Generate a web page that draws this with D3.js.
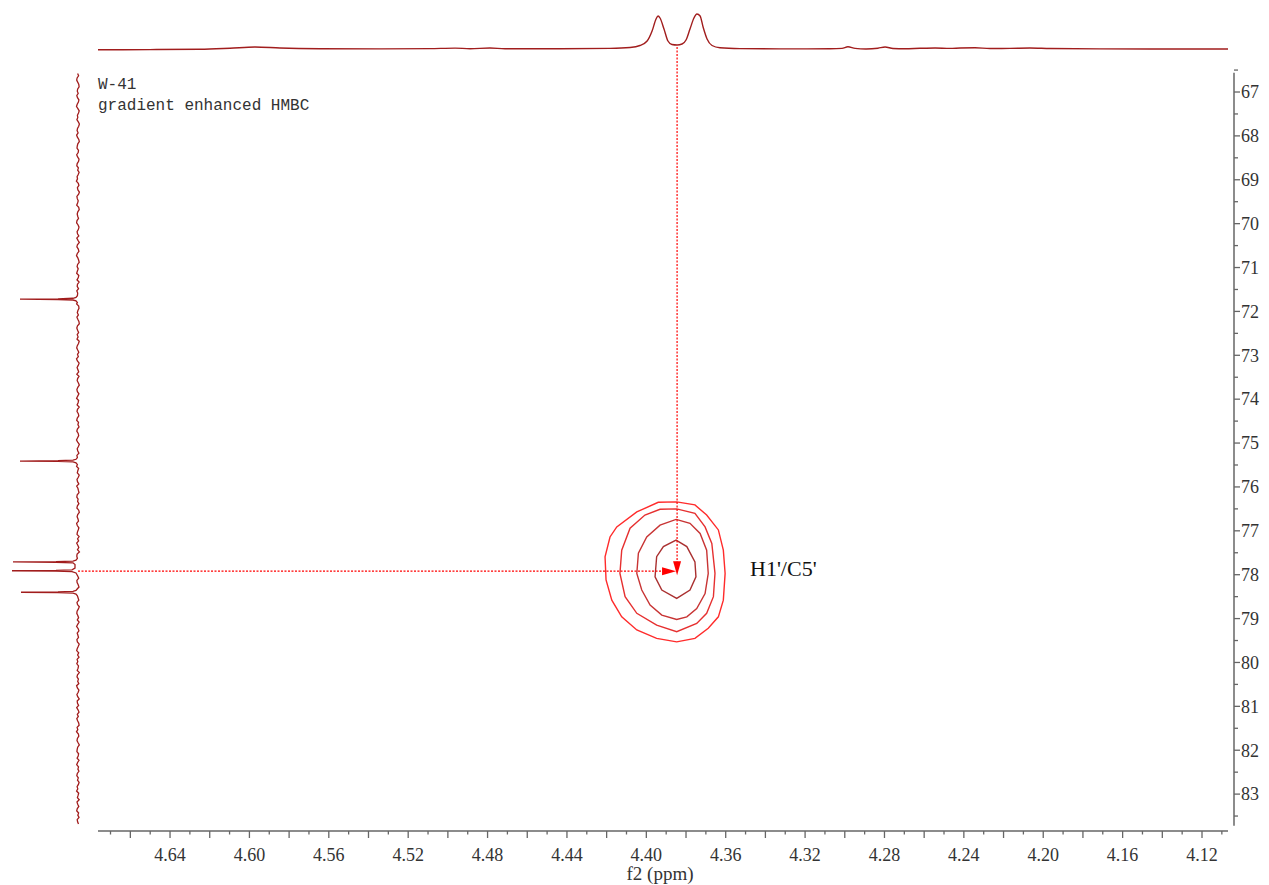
<!DOCTYPE html>
<html>
<head>
<meta charset="utf-8">
<script src="https://cdn.jsdelivr.net/npm/d3@7/dist/d3.min.js"></script>
<style>
  body { margin: 0; background: #fff; }
  .tick-label { font-family: "Liberation Serif", "DejaVu Serif", serif; font-size: 18px; fill: #333; }
  .title { font-family: "Liberation Mono", monospace; font-size: 16px; fill: #333; }
</style>
</head>
<body>
<div id="chart"></div>
<script>
var svgWidth = 1269;
var svgHeight = 885;

// plot area (pixels)
var plot = { left: 98, right: 1228, top: 72.7, bottom: 825.7 };

// ---- data ----
var f2Domain = [4.6763, 4.1069];       // ppm, left -> right
var f1Domain = [66.56, 83.72];         // ppm, top -> bottom
var f2Labels = [4.64, 4.60, 4.56, 4.52, 4.48, 4.44, 4.40, 4.36, 4.32, 4.28, 4.24, 4.20, 4.16, 4.12];
var f1Labels = [67, 68, 69, 70, 71, 72, 73, 74, 75, 76, 77, 78, 79, 80, 81, 82, 83];

// 1H projection (f2 ppm, intensity)
var topSpectrum = [
  [4.6763, -0.8], [4.6501, -0.6], [4.6249, -0.3], [4.6098, 0.8], [4.5972, 2.0], [4.5846, 1.0],
  [4.5644, 0.3], [4.5342, 0.1], [4.5090, 0.4], [4.4964, 0.9], [4.4888, 0.3], [4.4788, 1.0],
  [4.4712, 0.2], [4.4435, 0.2], [4.4183, 0.6], [4.4082, 1.5], [4.4032, 3.5], [4.3996, 8],
  [4.3971, 18], [4.3951, 30], [4.3941, 33], [4.3931, 31], [4.3911, 20], [4.3891, 8],
  [4.3871, 4.5], [4.3845, 4], [4.3820, 5], [4.3800, 9], [4.3780, 20], [4.3760, 31],
  [4.3745, 35], [4.3729, 33], [4.3714, 22], [4.3694, 10], [4.3669, 3.5], [4.3629, 1.2],
  [4.3528, 0.4], [4.3326, 0.1], [4.3074, 0.2], [4.3014, 0.6], [4.2984, 2.2], [4.2948, 0.6],
  [4.2893, 0.0], [4.2833, 0.8], [4.2797, 2.0], [4.2757, 0.5], [4.2696, 0.2], [4.2621, 0.7],
  [4.2545, 1.0], [4.2470, 0.6], [4.2419, 1.0], [4.2344, 1.2], [4.2268, 0.5], [4.2167, 0.6],
  [4.2067, 1.0], [4.1966, 0.5], [4.1714, 0.1], [4.1462, 0.0], [4.1069, 0.0]
];

// 13C projection: baseline noise sampled every 0.05 ppm from 66.58
var leftNoiseStart = 66.58;
var leftNoiseStep = 0.05;
var leftNoise = [
  0.4,-0.6,0.9,1.3,0.2,-0.8,-1.1,0.3,0.7,-0.2,1.2,0.5,-0.9,-0.4,0.8,1.5,0.1,-1.2,-0.5,0.6,
  0.2,1.1,-0.3,-1.4,-0.7,0.5,0.9,-0.1,1.4,0.6,-0.8,-1.3,0.2,0.7,1.0,-0.5,-0.2,1.3,0.4,-1.0,
  -0.6,0.8,1.2,-0.4,0.3,-1.1,-0.2,0.9,0.5,1.6,-0.3,-0.9,0.6,0.1,-1.4,-0.6,1.1,0.7,-0.2,0.4,
  1.3,-0.7,-1.2,0.2,0.8,0.3,-0.5,1.0,1.4,-0.1,-1.0,-0.4,0.9,0.5,-0.8,1.2,0.0,-1.3,0.6,1.1,
  -0.3,-0.9,0.7,1.5,0.2,-0.6,-1.2,0.4,0.9,-0.2,0.6,1.3,-0.8,-0.3,1.0,-1.1,0.5,0.8,-0.5,1.2,
  0.3,-1.4,-0.2,0.9,0.6,1.4,-0.7,-1.0,0.1,0.7,-0.4,1.1,0.2,-0.9,-1.3,0.5,1.2,0.4,-0.6,0.8,
  -0.1,1.0,-1.2,-0.5,0.7,1.3,0.3,-0.8,0.5,-0.3,1.5,0.6,-1.1,-0.2,0.9,0.1,-0.7,1.2,-1.0,0.4,
  0.8,-0.4,-1.3,0.2,1.1,0.6,-0.9,0.3,1.4,-0.6,-0.1,0.9,-1.2,0.5,1.0,-0.3,-0.8,0.7,1.3,-0.5,
  0.1,-1.0,0.6,1.2,-0.2,-0.7,0.4,1.5,0.3,-1.3,-0.4,0.8,0.2,-0.9,1.1,0.6,-0.5,-1.1,0.9,1.4,
  -0.6,0.2,0.7,-1.2,-0.3,1.0,0.5,-0.8,1.3,0.1,-0.4,-1.0,0.8,1.2,-0.1,0.4,-0.9,0.6,1.1,-0.7,
  -1.3,0.3,0.9,0.0,-0.5,1.4,0.7,-0.9,-0.2,0.6,1.0,-1.1,0.4,-0.6,1.3,0.2,-0.8,0.5,-1.4,0.9,
  1.2,-0.3,0.1,-0.9,0.8,1.5,-0.4,-1.2,0.6,0.3,-0.7,1.1,0.9,-0.2,-1.0,0.4,1.3,-0.5,0.7,-0.1,
  -0.8,1.0,0.5,-1.3,-0.4,0.9,1.2,0.2,-0.6,0.7,-1.1,0.3,1.4,-0.2,-0.9,0.8,0.1,-0.5,1.1,0.6,
  -1.2,-0.3,0.7,1.3,-0.7,0.4,-1.0,0.9,0.2,1.2,-0.5,-0.1,0.8,-1.3,0.5,1.0,-0.4,0.3,-0.8,1.4,
  0.6,-0.9,-0.2,1.1,0.3,-1.2,0.8,0.5,-0.6,1.3,0.0,-1.0,0.7,-0.3,1.2,0.4,-0.7,-1.1,0.9,0.2,
  1.5,-0.4,-0.8,0.6,1.0,-0.1,-1.3,0.3,0.8,1.1,-0.6,-0.2,0.9,-1.0,0.4,1.3,-0.5,0.1,-0.9,0.7,
  1.2,-0.3,0.5,-1.1,-0.4,0.9,0.2,1.4,-0.7,-0.1,0.6,-1.2,1.0,0.3,-0.8,0.7,1.3,-0.6,0.2,-1.0,
  0.8,0.4,-0.5,1.1,-1.3,0.6,0.1,-0.7,1.2,0.9
];
// 13C peaks (f1 ppm, intensity)
var leftPeaks = [
  [[71.64, 0.6], [71.68, 2], [71.70, 5], [71.712, 20], [71.72, 58], [71.728, 20], [71.74, 5], [71.76, 2], [71.80, 0.6]],
  [[75.33, 0.6], [75.37, 2], [75.39, 5], [75.402, 20], [75.41, 58], [75.418, 20], [75.43, 5], [75.45, 2], [75.49, 0.6]],
  [[77.63, 0.6], [77.67, 2], [77.69, 5], [77.702, 22], [77.71, 65], [77.718, 22], [77.73, 5], [77.77, 3],
   [77.85, 3], [77.89, 6], [77.902, 22], [77.91, 66], [77.918, 22], [77.93, 6], [77.96, 2], [78.00, 1]],
  [[78.32, 0.6], [78.36, 2], [78.38, 5], [78.392, 20], [78.40, 57], [78.408, 20], [78.42, 5], [78.44, 2], [78.48, 0.6]]
];

// cross peak and its contour levels (outer -> inner), [f2, f1]
var crossPeak = { f2: 4.3845, f1: 77.92, label: "H1'/C5'" };
var contourColors = ["#ff2b2b", "#e63030", "#c83434", "#aa3030"];
var contours = [
  [[4.3940,76.35],[4.3847,76.34],[4.3755,76.41],[4.3696,76.64],[4.3637,76.98],[4.3612,77.44],[4.3603,77.97],
   [4.3612,78.58],[4.3637,78.96],[4.3688,79.22],[4.3755,79.45],[4.3847,79.53],[4.3948,79.45],[4.4048,79.26],
   [4.4124,78.96],[4.4174,78.58],[4.4203,78.12],[4.4208,77.59],[4.4183,77.14],[4.4149,76.91],[4.4048,76.57]],
  [[4.3931,76.51],[4.3847,76.50],[4.3755,76.60],[4.3704,76.91],[4.3670,77.29],[4.3654,77.97],[4.3662,78.50],
   [4.3696,78.88],[4.3746,79.11],[4.3847,79.30],[4.3948,79.15],[4.4048,78.88],[4.4107,78.50],[4.4133,77.97],
   [4.4124,77.44],[4.4082,76.94],[4.4007,76.64]],
  [[4.3850,76.74],[4.3780,76.83],[4.3729,77.06],[4.3696,77.44],[4.3688,77.97],[4.3704,78.43],[4.3746,78.77],
   [4.3796,78.96],[4.3847,79.02],[4.3922,78.92],[4.3981,78.69],[4.4023,78.35],[4.4048,77.97],[4.4040,77.51],
   [4.3998,77.14],[4.3931,76.87]],
  [[4.3850,77.21],[4.3796,77.36],[4.3755,77.71],[4.3750,78.05],[4.3780,78.35],[4.3847,78.54],[4.3922,78.35],
   [4.3956,78.05],[4.3948,77.59],[4.3914,77.36]]
];

// ---- scales ----
var x = d3.scaleLinear().domain(f2Domain).range([plot.left, plot.right]);
var y = d3.scaleLinear().domain(f1Domain).range([plot.top, plot.bottom]);
var topY = d3.scaleLinear().domain([0, 40]).range([49, 9]);     // 1H projection intensity
var leftX = d3.scaleLinear().domain([0, 66]).range([78, 12]);   // 13C projection intensity

var svg = d3.select("#chart").append("svg")
  .attr("width", svgWidth)
  .attr("height", svgHeight);

var traceColor = "#a11d1d";
var axisColor = "#666";

// top projection
var topLine = d3.line()
  .x(d => x(d[0]))
  .y(d => topY(d[1]))
  .curve(d3.curveMonotoneX);
svg.append("path")
  .datum(topSpectrum)
  .attr("d", topLine)
  .attr("fill", "none")
  .attr("stroke", traceColor)
  .attr("stroke-width", 1.4);

// left projection: noise + peaks
var leftPts = [];
var allPeakPts = [].concat.apply([], leftPeaks);
var peakRanges = leftPeaks.map(p => d3.extent(p, d => d[0]));
leftNoise.forEach(function(v, i) {
  var f1 = leftNoiseStart + i * leftNoiseStep;
  if (f1 > f1Domain[1]) return;
  var inside = peakRanges.some(r => f1 >= r[0] - 0.02 && f1 <= r[1] + 0.02);
  if (!inside) leftPts.push([f1, v]);
});
leftPts = leftPts.concat(allPeakPts).sort((a, b) => a[0] - b[0]);

var leftLine = d3.line()
  .x(d => leftX(d[1]))
  .y(d => y(d[0]));
svg.append("path")
  .datum(leftPts)
  .attr("d", leftLine)
  .attr("fill", "none")
  .attr("stroke", traceColor)
  .attr("stroke-width", 1.3);

// x axis (bottom)
var axisY = 831;
var xg = svg.append("g");
xg.append("line")
  .attr("x1", plot.left).attr("x2", plot.right)
  .attr("y1", axisY).attr("y2", axisY)
  .attr("stroke", axisColor).attr("stroke-width", 1.5);
var xTicks = d3.range(467, 410, -1).map(d => d / 100);
xg.selectAll(".xt")
  .data(xTicks)
  .enter().append("line")
  .attr("x1", d => x(d)).attr("x2", d => x(d))
  .attr("y1", axisY)
  .attr("y2", d => Math.round(d * 100) % 2 === 0 ? axisY + 7 : axisY + 3.5)
  .attr("stroke", axisColor).attr("stroke-width", 1.3);
xg.selectAll(".xl")
  .data(f2Labels)
  .enter().append("text")
  .attr("class", "tick-label")
  .attr("x", d => x(d))
  .attr("y", 861)
  .attr("text-anchor", "middle")
  .text(d => d.toFixed(2));
svg.append("text")
  .attr("class", "tick-label")
  .style("font-size", "19px")
  .attr("x", 660)
  .attr("y", 880)
  .attr("text-anchor", "middle")
  .text("f2 (ppm)");

// y axis (right)
var axisX = 1234;
var yg = svg.append("g");
yg.append("line")
  .attr("x1", axisX).attr("x2", axisX)
  .attr("y1", plot.top).attr("y2", plot.bottom)
  .attr("stroke", axisColor).attr("stroke-width", 1.5);
var yTicks = d3.range(133, 168).map(d => d / 2);
yg.selectAll(".yt")
  .data(yTicks)
  .enter().append("line")
  .attr("x1", axisX)
  .attr("x2", d => d % 1 === 0 ? axisX + 6 : axisX + 4)
  .attr("y1", d => y(d)).attr("y2", d => y(d))
  .attr("stroke", axisColor).attr("stroke-width", 1.3);
yg.selectAll(".yl")
  .data(f1Labels)
  .enter().append("text")
  .attr("class", "tick-label")
  .attr("x", axisX + 7)
  .attr("y", d => y(d))
  .attr("dy", "0.35em")
  .text(d => d);

// titles
svg.append("text").attr("class", "title").attr("x", 98).attr("y", 89).text("W-41");
svg.append("text").attr("class", "title").attr("x", 98).attr("y", 110).text("gradient enhanced HMBC");

// contours
var contourLine = d3.line()
  .x(d => x(d[0]))
  .y(d => y(d[1]))
  .curve(d3.curveLinearClosed);
svg.selectAll(".contour")
  .data(contours)
  .enter().append("path")
  .attr("d", contourLine)
  .attr("fill", "none")
  .attr("stroke", (d, i) => contourColors[i])
  .attr("stroke-width", 1.4);

// dotted guide lines with arrows
var cx = x(crossPeak.f2), cy = y(crossPeak.f1);
svg.append("line")
  .attr("x1", cx).attr("x2", cx)
  .attr("y1", 47).attr("y2", cy - 9)
  .attr("stroke", "#ff0000").attr("stroke-width", 1.2)
  .attr("stroke-dasharray", "2,1.5");
svg.append("line")
  .attr("x1", 78).attr("x2", cx - 14)
  .attr("y1", cy).attr("y2", cy)
  .attr("stroke", "#ff0000").attr("stroke-width", 1.2)
  .attr("stroke-dasharray", "2,1.5");
svg.append("path")
  .attr("d", `M${cx - 4},${cy - 10}L${cx + 4},${cy - 10}L${cx},${cy + 4}Z`)
  .attr("fill", "#ff0000");
svg.append("path")
  .attr("d", `M${cx - 15},${cy - 4}L${cx - 15},${cy + 4}L${cx - 1},${cy}Z`)
  .attr("fill", "#ff0000");

svg.append("text")
  .attr("x", 750)
  .attr("y", cy + 5)
  .style("font-family", "'Liberation Serif', serif")
  .style("font-size", "22px")
  .attr("fill", "#111")
  .text(crossPeak.label);
</script>
</body>
</html>
